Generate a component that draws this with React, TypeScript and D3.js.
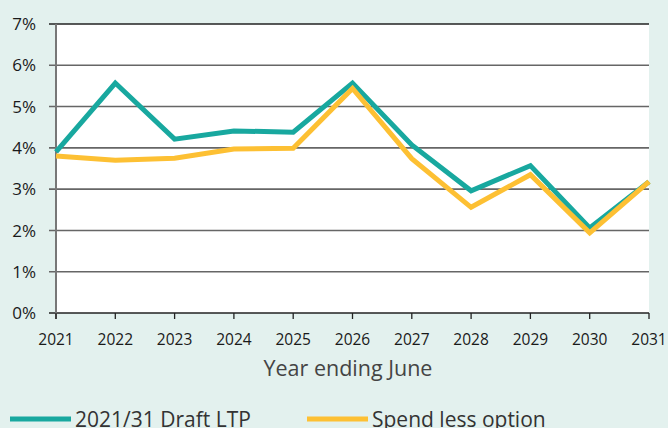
import React from "react";
import * as d3 from "d3";

const years = [2021, 2022, 2023, 2024, 2025, 2026, 2027, 2028, 2029, 2030, 2031];
const draftLTP = [3.9, 5.57, 4.21, 4.41, 4.38, 5.57, 4.07, 2.96, 3.57, 2.06, 3.18];
const spendLess = [3.8, 3.7, 3.75, 3.97, 3.99, 5.44, 3.74, 2.56, 3.35, 1.94, 3.18];
const yTicks = [0, 1, 2, 3, 4, 5, 6, 7];
const seriesNames = ["2021/31 Draft LTP", "Spend less option"];
const seriesColors = ["#18a89f", "#fdc033"];

const W = 668, H = 428;
const left = 56, right = 649, top = 24, bottom = 313;

export default function App() {
  const x = d3.scaleLinear().domain([2021, 2031]).range([left, right]);
  const y = d3.scaleLinear().domain([0, 7]).range([bottom, top]);
  const line = d3.line<number>().x((_, i) => x(years[i])).y((d) => y(d));
  const font = "'Open Sans', 'Noto Sans', sans-serif";
  return (
    <svg width={W} height={H} style={{ position: "absolute", left: 0, top: 0, display: "block" }}>
      <rect x={0} y={0} width={W} height={H} fill="#e3f1ee" />
      <rect x={left} y={top} width={right - left} height={bottom - top} fill="#ffffff" />
      {yTicks.map((t) => (
        <g key={t}>
          <line x1={left - 7} x2={right} y1={y(t)} y2={y(t)} stroke={t === 7 || t === 0 ? "#222" : "#666"} strokeWidth={1.6} />
          <text x={left - 20} y={y(t)} dy="0.36em" textAnchor="end" fontFamily={font} fontSize={17} fill="#1a1a1a">{t}%</text>
        </g>
      ))}
      <line x1={left} x2={left} y1={top} y2={bottom + 6} stroke="#777" strokeWidth={2} />
      {years.map((yr) => (
        <g key={yr}>
          <line x1={x(yr)} x2={x(yr)} y1={bottom} y2={bottom + 6} stroke="#222" strokeWidth={1.3} />
          <text x={x(yr)} y={345} textAnchor="middle" fontFamily={font} fontSize={15.5} fill="#1a1a1a">{yr}</text>
        </g>
      ))}
      <text x={348} y={376} textAnchor="middle" fontFamily={font} fontSize={21.5} fill="#444">Year ending June</text>
      <path d={line(draftLTP) || ""} fill="none" stroke={seriesColors[0]} strokeWidth={5} strokeLinejoin="miter" />
      <path d={line(spendLess) || ""} fill="none" stroke={seriesColors[1]} strokeWidth={5} strokeLinejoin="miter" />
      {seriesNames.map((n, i) => {
        const lx = i === 0 ? 10 : 307;
        return (
          <g key={n}>
            <line x1={lx} x2={lx + 61} y1={419} y2={419} stroke={seriesColors[i]} strokeWidth={5} />
            <text x={lx + 65} y={427} fontFamily={font} fontSize={21} fill="#333">{n}</text>
          </g>
        );
      })}
    </svg>
  );
}
